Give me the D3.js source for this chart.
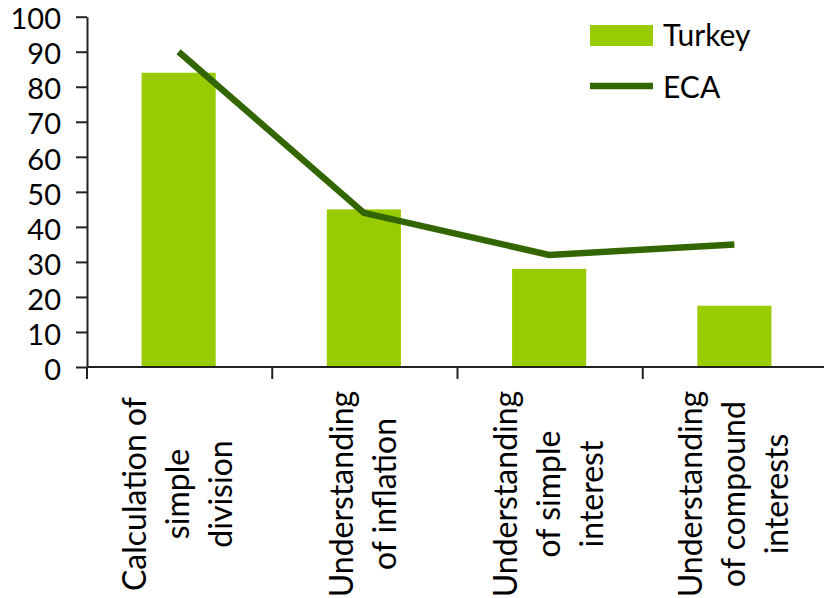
<!DOCTYPE html>
<html>
<head>
<meta charset="utf-8">
<script src="https://cdn.jsdelivr.net/npm/d3@7"></script>
<style>
  html, body { margin: 0; padding: 0; background: #fff; }
  svg { display: block; }
  text { font-family: Lato, "Open Sans", sans-serif; fill: #000; }
</style>
</head>
<body>
<svg id="chart" width="824" height="598"></svg>
<script>
const categories = [
  ["Calculation of", "simple", "division"],
  ["Understanding", "of inflation"],
  ["Understanding", "of simple", "interest"],
  ["Understanding", "of compound", "interests"]
];
const turkey = [84, 45, 28, 17.5];
const eca = [90, 44, 32, 35];
const yTicks = [0, 10, 20, 30, 40, 50, 60, 70, 80, 90, 100];
const seriesNames = ["Turkey", "ECA"];

const barColor = "#99cc00";
const lineColor = "#336600";
const axisColor = "#222";

const svg = d3.select("#chart");
const keys = categories.map((c, i) => "c" + i);

const x = d3.scaleBand()
  .domain(keys)
  .range([86, 827])
  .paddingInner(0.6)
  .paddingOuter(0.3);

const y = d3.scaleLinear().domain([0, 100]).range([367, 16.7]);

// Bars
svg.append("g").selectAll("rect")
  .data(turkey)
  .join("rect")
  .attr("x", (d, i) => x(keys[i]))
  .attr("y", d => y(d))
  .attr("width", x.bandwidth())
  .attr("height", d => y(0) - y(d))
  .attr("fill", barColor);

// Y axis
const yAxis = d3.axisLeft(y)
  .tickValues(yTicks)
  .tickSize(11)
  .tickSizeOuter(0)
  .tickPadding(15);
const gy = svg.append("g")
  .attr("transform", "translate(87,0)")
  .call(yAxis);
gy.select(".domain").attr("stroke", axisColor).attr("stroke-width", 2);
gy.selectAll(".tick line").attr("stroke", axisColor).attr("stroke-width", 2);
gy.selectAll(".tick text")
  .attr("font-size", 29)
  .attr("font-family", "Lato, 'Open Sans', sans-serif")
  .attr("fill", "#000")
  .attr("dy", "0.42em");

// X axis (band boundaries as ticks)
const step = x.step();
const boundaries = d3.range(keys.length + 1).map(i => 87 + i * step);
const gx = svg.append("g");
gx.append("line")
  .attr("x1", 87).attr("x2", 824)
  .attr("y1", y(0)).attr("y2", y(0))
  .attr("stroke", axisColor).attr("stroke-width", 2);
gx.selectAll("line.tick")
  .data(boundaries)
  .join("line")
  .attr("class", "tick")
  .attr("x1", d => d).attr("x2", d => d)
  .attr("y1", y(0)).attr("y2", y(0) + 12)
  .attr("stroke", axisColor).attr("stroke-width", 2);

// Category labels
const lineGap = 43;
const labelG = svg.append("g");
categories.forEach((lines, i) => {
  const cx = x(keys[i]) + x.bandwidth() / 2;
  const n = lines.length;
  lines.forEach((t, j) => {
    const bx = cx + (j - (n - 1) / 2) * lineGap + 10.5;
    labelG.append("text")
      .attr("transform", `translate(${bx},494) rotate(-90)`)
      .attr("text-anchor", "middle")
      .attr("font-size", 32)
      .text(t);
  });
});

// ECA line
const line = d3.line()
  .x((d, i) => x(keys[i]) + x.bandwidth() / 2)
  .y(d => y(d));
svg.append("path")
  .datum(eca)
  .attr("d", line)
  .attr("fill", "none")
  .attr("stroke", lineColor)
  .attr("stroke-width", 6.5);

// Legend
const lg = svg.append("g");
lg.append("rect")
  .attr("x", 590).attr("y", 25).attr("width", 63).attr("height", 21)
  .attr("fill", barColor);
lg.append("line")
  .attr("x1", 590).attr("x2", 653).attr("y1", 86).attr("y2", 86)
  .attr("stroke", lineColor).attr("stroke-width", 6.5);
lg.append("text").attr("x", 663).attr("y", 46).attr("font-size", 30).text(seriesNames[0]);
lg.append("text").attr("x", 663).attr("y", 98).attr("font-size", 30).text(seriesNames[1]);
</script>
</body>
</html>
